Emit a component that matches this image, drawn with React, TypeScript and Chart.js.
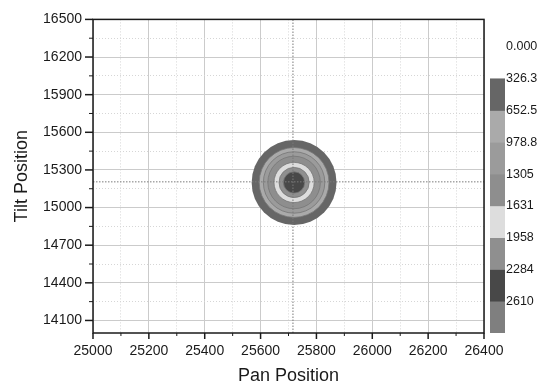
import React, { useEffect, useRef } from "react";
import { Chart, registerables } from "chart.js";

Chart.register(...registerables);

// ---------- data ----------
const panMin = 25000;
const panMax = 26400;
const tiltMin = 14000;
const tiltMax = 16500;
const panMajorTicks = [25000, 25200, 25400, 25600, 25800, 26000, 26200, 26400];
const panMinorTicks = [25100, 25300, 25500, 25700, 25900, 26100, 26300];
const tiltMajorTicks = [14100, 14400, 14700, 15000, 15300, 15600, 15900, 16200, 16500];
const tiltMinorTicks = [14250, 14550, 14850, 15150, 15450, 15750, 16050, 16350];

const crosshairPan = 25716;
const crosshairTilt = 15205;

const peakPan = 25720;
const peakTilt = 15200;
// contour bands, outermost (>= 326.3) to innermost
const contourLevels = [326.3, 652.5, 978.8, 1305, 1631, 1958, 2284];
const contourRadiusPan = [152, 125, 110, 94, 72, 54, 38];

const colorbarLevels = [0, 326.3, 652.5, 978.8, 1305, 1631, 1958, 2284, 2610];
const colorbarLabels = ["0.000", "326.3", "652.5", "978.8", "1305", "1631", "1958", "2284", "2610"];
const colorbarTop = 2936.6;
const levelColors = ["#666666", "#aaaaaa", "#9b9b9b", "#8e8e8e", "#dddddd", "#8f8f8f", "#484848", "#7f7f7f"];

const FONT = "'Liberation Sans', Arial, sans-serif";
const TEXT = "#1a1a1a";

const isMinor = (list: number[], v: any) => list.includes(v);

const axisDecor = {
  id: "axisDecor",
  afterDatasetsDraw(chart: any) {
    const { ctx, chartArea: a, scales } = chart;
    const x = scales.x;
    const y = scales.y;
    ctx.save();
    ctx.strokeStyle = TEXT;
    const seg = (x1: number, y1: number, x2: number, y2: number, w: number) => {
      ctx.lineWidth = w;
      ctx.beginPath();
      ctx.moveTo(x1, y1);
      ctx.lineTo(x2, y2);
      ctx.stroke();
    };
    panMajorTicks.forEach((v) => {
      const px = x.getPixelForValue(v);
      seg(px, a.bottom, px, a.bottom + 6, 1.5);
    });
    panMinorTicks.forEach((v) => {
      const px = x.getPixelForValue(v);
      seg(px, a.bottom, px, a.bottom + 3, 1);
    });
    tiltMajorTicks.forEach((v) => {
      const py = y.getPixelForValue(v);
      seg(a.left - 8, py, a.left, py, 1.5);
    });
    tiltMinorTicks.forEach((v) => {
      const py = y.getPixelForValue(v);
      seg(a.left - 4, py, a.left, py, 1);
    });
    ctx.lineWidth = 1.5;
    ctx.strokeRect(a.left, a.top, a.right - a.left, a.bottom - a.top);
    ctx.restore();
  },
};

export default function App() {
  const mainRef = useRef<HTMLCanvasElement | null>(null);
  const barRef = useRef<HTMLCanvasElement | null>(null);

  useEffect(() => {
    const ringRadius = (c: any) => {
      const s = c.chart && c.chart.scales && c.chart.scales.x;
      if (!s || c.dataIndex === undefined) return 0;
      const r = contourRadiusPan[c.dataIndex];
      return Math.abs(s.getPixelForValue(peakPan + r) - s.getPixelForValue(peakPan));
    };

    const main = new Chart(mainRef.current as HTMLCanvasElement, {
      type: "scatter",
      data: {
        datasets: [
          {
            data: [
              { x: crosshairPan, y: tiltMin },
              { x: crosshairPan, y: tiltMax },
            ],
            showLine: true,
            pointRadius: 0,
            borderColor: "#7a7a7a",
            borderWidth: 1,
            borderDash: [1.5, 1.5],
          },
          {
            data: [
              { x: panMin, y: crosshairTilt },
              { x: panMax, y: crosshairTilt },
            ],
            showLine: true,
            pointRadius: 0,
            borderColor: "#7a7a7a",
            borderWidth: 1,
            borderDash: [1.5, 1.5],
          },
          {
            data: contourLevels.map(() => ({ x: peakPan, y: peakTilt })),
            pointRadius: ringRadius as any,
            pointBackgroundColor: contourLevels.map((_, i) => levelColors[i]),
            pointBorderColor: contourLevels.map((_, i) => (i === 0 ? "rgba(0,0,0,0)" : "#767676")),
            pointBorderWidth: 0.8,
          },
        ],
      },
      options: {
        responsive: false,
        animation: false,
        events: [],
        layout: { padding: { left: 0, top: 15, right: 56, bottom: 0 } },
        plugins: { legend: { display: false }, tooltip: { enabled: false } },
        scales: {
          x: {
            type: "linear",
            min: panMin,
            max: panMax,
            afterBuildTicks: (s: any) => {
              s.ticks = [...panMajorTicks, ...panMinorTicks].sort((a, b) => a - b).map((v) => ({ value: v }));
            },
            ticks: {
              autoSkip: false,
              maxRotation: 0,
              padding: 10,
              color: TEXT,
              font: { family: FONT, size: 14 },
              callback: (v: any) => (panMajorTicks.includes(v) ? String(v) : ""),
            },
            grid: {
              drawTicks: false,
              lineWidth: 1,
              color: (c: any) => (c.tick && isMinor(panMinorTicks, c.tick.value) ? "#d6d6d6" : "#cbcbcb"),
            },
            border: {
              display: false,
              dash: (c: any) => (c.tick && isMinor(panMinorTicks, c.tick.value) ? [1, 2] : []),
            } as any,
            title: {
              display: true,
              text: "Pan Position",
              color: TEXT,
              font: { family: FONT, size: 18, lineHeight: 1 },
              padding: { top: 0, bottom: 0 },
            },
            afterFit: (s: any) => {
              s.height = 52;
            },
          },
          y: {
            type: "linear",
            min: tiltMin,
            max: tiltMax,
            afterBuildTicks: (s: any) => {
              s.ticks = [...tiltMajorTicks, ...tiltMinorTicks].sort((a, b) => a - b).map((v) => ({ value: v }));
            },
            ticks: {
              autoSkip: false,
              padding: 11,
              color: TEXT,
              font: { family: FONT, size: 14 },
              callback: (v: any) => (tiltMajorTicks.includes(v) ? String(v) : ""),
            },
            grid: {
              drawTicks: false,
              lineWidth: 1,
              color: (c: any) => (c.tick && isMinor(tiltMinorTicks, c.tick.value) ? "#d6d6d6" : "#cbcbcb"),
            },
            border: {
              display: false,
              dash: (c: any) => (c.tick && isMinor(tiltMinorTicks, c.tick.value) ? [1, 2] : []),
            } as any,
            title: {
              display: true,
              text: "Tilt Position",
              color: TEXT,
              font: { family: FONT, size: 18, lineHeight: 1 },
              padding: { top: 13, bottom: 0 },
            },
            afterFit: (s: any) => {
              s.width = 93;
            },
          },
        },
      },
      plugins: [axisDecor],
    } as any);

    const bands = colorbarLevels.slice(1).map((lo, i) => {
      const hi = i + 2 < colorbarLevels.length ? colorbarLevels[i + 2] : colorbarTop;
      return { lo, hi, color: levelColors[i] };
    });

    const bar = new Chart(barRef.current as HTMLCanvasElement, {
      type: "bar",
      data: {
        labels: [""],
        datasets: bands.map((b) => ({
          data: [[b.lo, b.hi]],
          backgroundColor: b.color,
          borderWidth: 0,
          barPercentage: 1,
          categoryPercentage: 1,
        })),
      },
      options: {
        responsive: false,
        animation: false,
        events: [],
        layout: { padding: { left: 20, top: 47, bottom: 52, right: 0 } },
        plugins: { legend: { display: false }, tooltip: { enabled: false } },
        scales: {
          x: { display: false, stacked: true },
          y: {
            position: "right",
            reverse: true,
            min: 0,
            max: colorbarTop,
            afterBuildTicks: (s: any) => {
              s.ticks = colorbarLevels.map((v) => ({ value: v }));
            },
            ticks: {
              autoSkip: false,
              padding: 1,
              color: TEXT,
              font: { family: FONT, size: 12.5 },
              callback: (_v: any, i: number) => colorbarLabels[i],
            },
            grid: { display: false, drawTicks: false },
            border: { display: false },
            afterFit: (s: any) => {
              s.width = 35;
            },
          },
        },
      },
    } as any);

    return () => {
      main.destroy();
      bar.destroy();
    };
  }, []);

  return (
    <div style={{ position: "fixed", left: 0, top: 0, width: 540, height: 385, background: "#fff" }}>
      <canvas ref={mainRef} width={540} height={385} style={{ position: "absolute", left: 0, top: 0 }} />
      <canvas ref={barRef} width={70} height={385} style={{ position: "absolute", left: 470, top: 0 }} />
    </div>
  );
}
